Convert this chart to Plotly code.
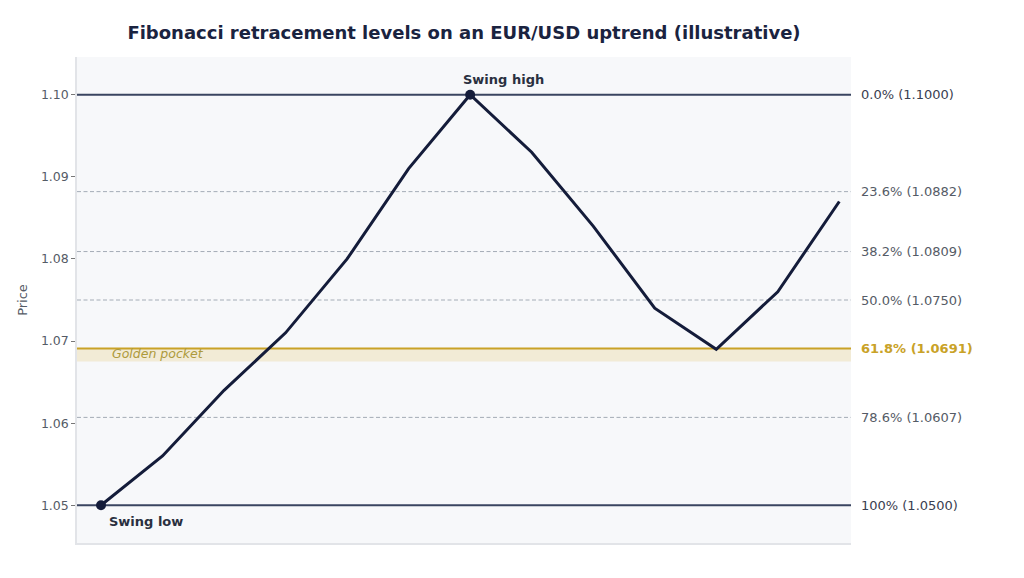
import plotly.graph_objects as go

# illustrative price path (bar index vs EUR/USD close)
bars = list(range(13))
prices = [1.050, 1.056, 1.064, 1.071, 1.080, 1.091, 1.100,
          1.093, 1.084, 1.074, 1.069, 1.076, 1.087]

# retracement levels
fib_ratios = [0.0, 0.236, 0.382, 0.5, 0.618, 0.786, 1.0]
fib_prices = [1.1000, 1.0882, 1.0809, 1.0750, 1.0691, 1.0607, 1.0500]
fib_labels = ["0.0% (1.1000)", "23.6% (1.0882)", "38.2% (1.0809)", "50.0% (1.0750)",
              "61.8% (1.0691)", "78.6% (1.0607)", "100% (1.0500)"]
pocket_low = 1.0675
pocket_high = 1.0691

swing_idx = [0, 6]

NAVY = "#141c3a"
GOLD = "#c9a227"
GREY = "#555b66"

fig = go.Figure()

# golden pocket band
fig.add_hrect(y0=pocket_low, y1=pocket_high, fillcolor="#efe6c6", opacity=0.7,
              line_width=0, layer="below")

for r, p, lab in zip(fib_ratios, fib_prices, fib_labels):
    if r in (0.0, 1.0):
        fig.add_hline(y=p, line=dict(color="#3a4560", width=2), layer="below")
        col, bold = "#3a4050", False
    elif r == 0.618:
        fig.add_hline(y=p, line=dict(color=GOLD, width=2), layer="below")
        col, bold = GOLD, True
    else:
        fig.add_hline(y=p, line=dict(color="#a4acb6", width=1, dash="4px,2.5px"),
                      layer="below")
        col, bold = GREY, False
    fig.add_annotation(x=1.01, xref="paper", y=p, yref="y", xanchor="left",
                       text=f"<b>{lab}</b>" if bold else lab, showarrow=False,
                       font=dict(size=13, color=col))

fig.add_annotation(x=0.043, xref="paper", y=pocket_high, yref="y", yanchor="middle",
                   yshift=-5, xanchor="left", text="<i>Golden pocket</i>", showarrow=False,
                   font=dict(size=12.5, color="#ad9a3c"))

fig.add_trace(go.Scatter(x=bars, y=prices, mode="lines",
                         line=dict(color=NAVY, width=3), showlegend=False,
                         hoverinfo="skip"))
fig.add_trace(go.Scatter(x=[bars[i] for i in swing_idx],
                         y=[prices[i] for i in swing_idx], mode="markers",
                         marker=dict(color=NAVY, size=10), showlegend=False))

fig.add_annotation(x=bars[0], y=prices[0], text="<b>Swing low</b>", showarrow=False,
                   xanchor="left", yanchor="top", yshift=-7, xshift=6,
                   font=dict(size=13, color="#2a3040"))
fig.add_annotation(x=bars[6], y=prices[6], text="<b>Swing high</b>", showarrow=False,
                   xanchor="left", yanchor="bottom", yshift=6, xshift=-9,
                   font=dict(size=13, color="#2a3040"))

fig.update_layout(
    width=1024, height=578,
    margin=dict(l=69, r=181, t=49, b=43),
    paper_bgcolor="white", plot_bgcolor="#f7f8fa",
    font=dict(family="DejaVu Sans", size=12.5, color=GREY),
    title=dict(text="<b>Fibonacci retracement levels on an EUR/USD uptrend (illustrative)</b>",
               x=0.5, xref="paper", xanchor="center", y=0.957, yanchor="middle",
               font=dict(size=18, color="#1a2340")),
    showlegend=False,
)
fig.update_xaxes(range=[-0.39, 12.19], showticklabels=False, showgrid=False,
                 zeroline=False, showline=True, linecolor="#e2e4e8", linewidth=1.5,
                 ticks="")
fig.update_yaxes(range=[1.0454, 1.1046], tickvals=[1.05, 1.06, 1.07, 1.08, 1.09, 1.10],
                 tickformat=".2f", showgrid=False, zeroline=False, showline=True,
                 linecolor="#e2e4e8", linewidth=1.5, ticks="outside", ticklen=4,
                 tickcolor="#777", title=dict(text="Price", font=dict(size=13, color=GREY),
                                              standoff=10))

fig.write_html("out.html")
